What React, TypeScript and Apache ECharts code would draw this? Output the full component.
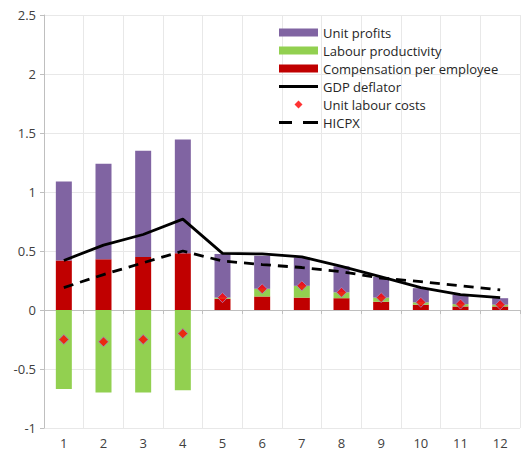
import React, { useEffect, useRef } from "react";
import * as echarts from "echarts";

const categories = ["1", "2", "3", "4", "5", "6", "7", "8", "9", "10", "11", "12"];
const compensation = [0.42, 0.43, 0.45, 0.48, 0.095, 0.115, 0.105, 0.1, 0.07, 0.045, 0.03, 0.03];
const productivity = [-0.67, -0.7, -0.7, -0.68, 0.01, 0.065, 0.1, 0.05, 0.035, 0.02, 0.02, 0.015];
const unitProfits = [0.67, 0.81, 0.9, 0.965, 0.37, 0.28, 0.24, 0.22, 0.175, 0.12, 0.08, 0.055];
const unitLabourCosts = [-0.25, -0.27, -0.25, -0.2, 0.105, 0.18, 0.205, 0.15, 0.105, 0.065, 0.05, 0.045];
const gdpDeflator = [0.42, 0.55, 0.64, 0.77, 0.48, 0.475, 0.45, 0.37, 0.28, 0.19, 0.13, 0.105];
const hicpx = [0.19, 0.3, 0.4, 0.5, 0.415, 0.385, 0.36, 0.325, 0.27, 0.24, 0.205, 0.17];

const FONT = "'Open Sans', sans-serif";

export default function App() {
  const ref = useRef<HTMLDivElement>(null);
  useEffect(() => {
    document.body.style.margin = "0";
    if (!ref.current) return;
    const chart = echarts.init(ref.current, undefined, { renderer: "svg" });
    chart.setOption({
      animation: false,
      backgroundColor: "#ffffff",
      textStyle: { fontFamily: FONT },
      grid: { left: 44, right: 3, top: 15, bottom: 26, containLabel: false },
      legend: {
        orient: "vertical",
        left: 279,
        top: 26,
        padding: 0,
        itemWidth: 39,
        itemHeight: 8,
        itemGap: 5,
        symbolKeepAspect: true,
        textStyle: { fontFamily: FONT, fontSize: 13, color: "#262626" },
        data: [
          { name: "Unit profits", icon: "rect" },
          { name: "Labour productivity", icon: "rect" },
          { name: "Compensation per employee", icon: "rect" },
          { name: "GDP deflator", icon: "path://M0,0h39v3h-39z", itemStyle: { color: "#000000" } },
          { name: "Unit labour costs", icon: "path://M4,0L8,4L4,8L0,4Z", itemStyle: { color: "#ff0000", borderWidth: 0 } },
          { name: "HICPX", icon: "path://M0,0h13v3h-13z M24,0h15v3h-15z", itemStyle: { color: "#000000" } },
        ],
      },
      xAxis: [
        {
          type: "category",
          data: categories,
          position: "bottom",
          axisLine: { show: false, onZero: false },
          axisTick: { show: false },
          axisLabel: { fontFamily: FONT, fontSize: 13, color: "#404040", margin: 8 },
          splitLine: { show: true, lineStyle: { color: "#e8e8e8", width: 1 } },
        },
        {
          type: "category",
          data: categories,
          position: "bottom",
          axisLine: { show: true, onZero: true, lineStyle: { color: "#bfbfbf", width: 1 } },
          axisTick: { show: true, length: 4, lineStyle: { color: "#bfbfbf" } },
          axisLabel: { show: false },
          splitLine: { show: false },
        },
      ],
      yAxis: {
        type: "value",
        min: -1,
        max: 2.5,
        interval: 0.5,
        axisLine: { show: true, lineStyle: { color: "#bfbfbf", width: 1 } },
        axisTick: { show: true, length: 4, lineStyle: { color: "#bfbfbf" } },
        axisLabel: { fontFamily: FONT, fontSize: 13, color: "#404040", margin: 8 },
        splitLine: { show: true, lineStyle: { color: "#e8e8e8", width: 1 } },
      },
      series: [
        {
          name: "Compensation per employee",
          type: "bar",
          stack: "total",
          barWidth: 16,
          itemStyle: { color: "#c00000" },
          data: compensation,
          z: 2,
        },
        {
          name: "Labour productivity",
          type: "bar",
          stack: "total",
          barWidth: 16,
          itemStyle: { color: "#92d050" },
          data: productivity,
          z: 2,
        },
        {
          name: "Unit profits",
          type: "bar",
          stack: "total",
          barWidth: 16,
          itemStyle: { color: "#8064a2" },
          data: unitProfits,
          z: 2,
        },
        {
          name: "GDP deflator",
          type: "line",
          symbol: "none",
          lineStyle: { color: "#000000", width: 2.8 },
          itemStyle: { color: "#000000" },
          data: gdpDeflator,
          z: 4,
        },
        {
          name: "HICPX",
          type: "line",
          symbol: "none",
          lineStyle: { color: "#000000", width: 2.8, type: [10, 7] },
          itemStyle: { color: "#000000" },
          data: hicpx,
          z: 4,
        },
        {
          name: "Unit labour costs",
          type: "scatter",
          symbol: "diamond",
          symbolSize: 10,
          itemStyle: { color: "#ff0000", borderColor: "#9b8fd0", borderWidth: 1 },
          data: unitLabourCosts,
          z: 5,
        },
      ],
    });
    return () => chart.dispose();
  }, []);
  return <div ref={ref} style={{ width: 523, height: 454 }} />;
}
